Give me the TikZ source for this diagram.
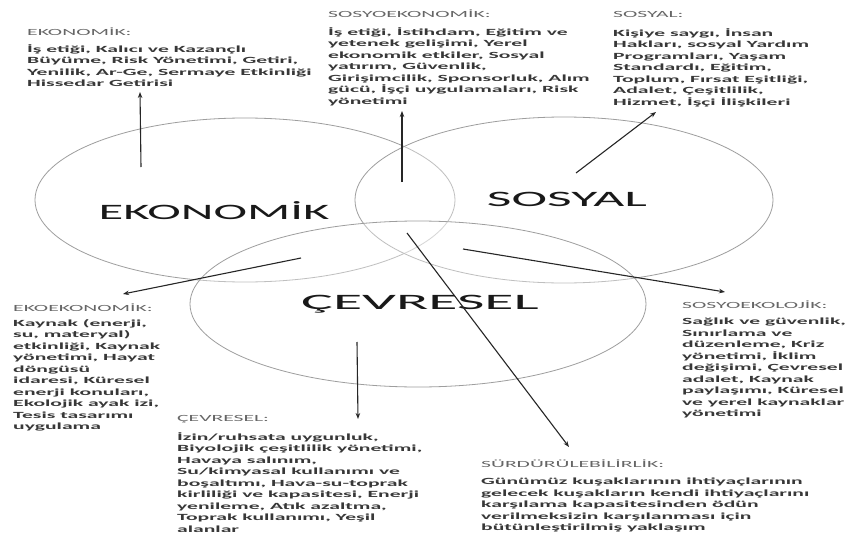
\documentclass[tikz,border=0pt]{standalone}
\usepackage{fontspec}
\setmainfont{Carlito}[FakeStretch=2.3]
\usetikzlibrary{arrows.meta}
\begin{document}
\begin{tikzpicture}[x=1pt,y=-1pt,
  titletext/.style={anchor=base west, inner sep=0pt, font=\fontsize{9.4}{11.5}\selectfont, text=black!60},
  bodytext/.style={anchor=north west, inner sep=0pt, align=left, font=\fontsize{9.4}{11.5}\selectfont\bfseries, text=black!78},
  bigtext/.style={anchor=base, inner sep=0pt, font=\fontsize{22}{26}\selectfont, text=black!90},
  ring/.style={draw=black!38, line width=0.8pt, fill=white, fill opacity=0.35},
  arr/.style={-{Stealth[length=6pt,width=4.5pt]}, line width=1.1pt, draw=black!85}]
\useasboundingbox (0,0) rectangle (847,538);
\fill[white] (0,0) rectangle (847,538);

% ellipses
\draw[ring] (245,200) ellipse [x radius=210pt, y radius=82pt];
\draw[ring] (564,200) ellipse [x radius=209pt, y radius=83pt];
\draw[ring] (418,304) ellipse [x radius=228pt, y radius=83pt];

% big labels
\node[bigtext] (lEko) at (214,219) {EKONOMİK};
\node[bigtext, xscale=1.06] (lSos) at (567,206) {SOSYAL};
\node[bigtext, xscale=1.18] (lCev) at (420,309) {ÇEVRESEL};

% text blocks
\node[titletext] (tEko) at (27,35) {EKONOMİK:};
\node[bodytext] (bEko) at (27,44) {İş etiği, Kalıcı ve Kazançlı\\Büyüme, Risk Yönetimi, Getiri,\\Yenilik, Ar-Ge, Sermaye Etkinliği\\Hissedar Getirisi};

\node[titletext] (tSE) at (328,17) {SOSYOEKONOMİK:};
\node[bodytext] (bSE) at (328,27) {İş etiği, İstihdam, Eğitim ve\\yetenek gelişimi, Yerel\\ekonomik etkiler, Sosyal\\yatırım, Güvenlik,\\Girişimcilik, Sponsorluk, Alım\\gücü, İşçi uygulamaları, Risk\\yönetimi};

\node[titletext] (tSos) at (613,17) {SOSYAL:};
\node[bodytext] (bSos) at (613,28) {Kişiye saygı, İnsan\\Hakları, sosyal Yardım\\Programları, Yaşam\\Standardı, Eğitim,\\Toplum, Fırsat Eşitliği,\\Adalet, Çeşitlilik,\\Hizmet, İşçi İlişkileri};

\node[titletext] (tEE) at (13,311) {EKOEKONOMİK:};
\node[bodytext] (bEE) at (13,319) {Kaynak (enerji,\\su, materyal)\\etkinliği, Kaynak\\yönetimi, Hayat\\döngüsü\\idaresi, Küresel\\enerji konuları,\\Ekolojik ayak izi,\\Tesis tasarımı\\uygulama};

\node[titletext] (tCev) at (177,421) {ÇEVRESEL:};
\node[bodytext] (bCev) at (177,432) {İzin/ruhsata uygunluk,\\Biyolojik çeşitlilik yönetimi,\\Havaya salınım,\\Su/kimyasal kullanımı ve\\boşaltımı, Hava-su-toprak\\kirliliği ve kapasitesi, Enerji\\yenileme, Atık azaltma,\\Toprak kullanımı, Yeşil\\alanlar};

\node[titletext] (tSur) at (481,467) {SÜRDÜRÜLEBİLİRLİK:};
\node[bodytext] (bSur) at (481,478) {Günümüz kuşaklarının ihtiyaçlarının\\gelecek kuşakların kendi ihtiyaçlarını\\karşılama kapasitesinden ödün\\verilmeksizin karşılanması için\\bütünleştirilmiş yaklaşım};

\node[titletext] (tSEk) at (682,308) {SOSYOEKOLOJİK:};
\node[bodytext] (bSEk) at (682,318) {Sağlık ve güvenlik,\\Sınırlama ve\\düzenleme, Kriz\\yönetimi, İklim\\değişimi, Çevresel\\adalet, Kaynak\\paylaşımı, Küresel\\ve yerel kaynaklar\\yönetimi};

% arrow coordinates
\coordinate (s1) at (141,167); \coordinate (e1) at (140,92);
\coordinate (s2) at (402,182); \coordinate (e2) at (402,111);
\coordinate (s3) at (576,173); \coordinate (e3) at (656,112);
\coordinate (s4) at (301,258); \coordinate (e4) at (123,294);
\coordinate (s5) at (463,249); \coordinate (e5) at (725,292);
\coordinate (s6) at (357,342); \coordinate (e6) at (358,419);
\coordinate (s7) at (407,233); \coordinate (e7) at (569,447);

\draw[arr] (s1) -- (e1);
\draw[arr] (s2) -- (e2);
\draw[arr] (s3) -- (e3);
\draw[arr] (s4) -- (e4);
\draw[arr] (s5) -- (e5);
\draw[arr] (s6) -- (e6);
\draw[arr] (s7) -- (e7);
\end{tikzpicture}
\end{document}
